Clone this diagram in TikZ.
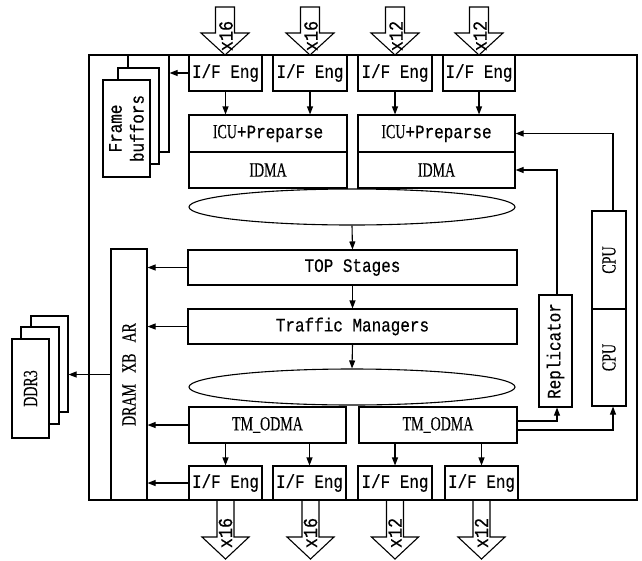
\documentclass[tikz,border=0pt]{standalone}
\usepackage{fontspec}
\setmainfont{Liberation Serif}
\newfontfamily\monof[FakeStretch=0.84,FakeBold=0.4]{Liberation Mono}
\newfontfamily\condf[FakeStretch=0.7,FakeBold=0.3]{Liberation Serif}
\usetikzlibrary{arrows.meta,shapes.geometric}
\tikzset{
  box/.style={draw, inner sep=0pt, fill=white, font=\monof\fontsize{19}{21}\selectfont},
  cbox/.style={box, font=\condf\fontsize{20}{22}\selectfont},
  rlab/.style={rotate=90, inner sep=0pt, font=\monof\fontsize{19}{22}\selectfont, align=center},
  crlab/.style={rotate=90, inner sep=0pt, font=\condf\fontsize{20}{22}\selectfont},
  alab/.style={rotate=90, inner sep=0pt, font=\monof\fontsize{20}{22}\selectfont},
  arr/.style={-{Triangle[length=8pt,width=6pt]}},
  bus/.style={draw, ellipse, inner sep=0pt, minimum width=326pt, minimum height=36pt}
}
\begin{document}
\begin{tikzpicture}[x=1pt,y=-1pt,line width=1.1pt]
\useasboundingbox (0,0) rectangle (642,560);
% main frame
\node[draw, inner sep=0pt, minimum width=548pt, minimum height=445pt] (frame) at (363,277.5) {};

% block arrows (top, in)
\foreach \c/\t [count=\i] in {225/x16,310/x16,395/x12,479/x12} {
  \draw[fill=white] (\c-9.5,7) -- (\c+9.5,7) -- (\c+9.5,33) -- (\c+24,33) -- (\c,55) -- (\c-24,33) -- (\c-9.5,33) -- cycle;
  \node[alab] (tin\i) at (\c+1,36) {\t};
}
% block arrows (bottom, out)
\foreach \c/\t [count=\i] in {225.5/x16,310.5/x16,395/x12,481.5/x12} {
  \draw[fill=white] (\c-8.5,500) -- (\c+8.5,500) -- (\c+8.5,537) -- (\c+23.5,537) -- (\c,559) -- (\c-23.5,537) -- (\c-8.5,537) -- cycle;
  \node[alab] (bout\i) at (\c,533) {\t};
}

% frame buffers
\node[box, minimum width=41pt, minimum height=97pt] (fb3) at (148.5,103.5) {};
\node[box, minimum width=41pt, minimum height=96pt] (fb2) at (138.5,116) {};
\node[box, minimum width=47pt, minimum height=97pt] (fb1) at (126.5,128.5) {};
\node[rlab] (fblab) at (fb1) {Frame\\buffors};

% top I/F engines
\node[box, minimum width=73pt, minimum height=36pt] (ifa) at (225.5,73) {I/F Eng};
\node[box, minimum width=74pt, minimum height=36pt] (ifb) at (310,73) {I/F Eng};
\node[box, minimum width=74pt, minimum height=36pt] (ifc) at (395,73) {I/F Eng};
\node[box, minimum width=72pt, minimum height=36pt] (ifd) at (479,73) {I/F Eng};

% ICU + IDMA
\node[box, minimum width=158pt, minimum height=37pt] (icuL) at (268,133.5) {{\condf\fontsize{20}{22}\selectfont ICU}+Preparse};
\node[cbox, minimum width=158pt, minimum height=36pt] (idmaL) at (268,170) {IDMA};
\node[box, minimum width=157pt, minimum height=37pt] (icuR) at (436.5,133.5) {{\condf\fontsize{20}{22}\selectfont ICU}+Preparse};
\node[cbox, minimum width=157pt, minimum height=36pt] (idmaR) at (436.5,170) {IDMA};

% buses
\node[bus] (ell1) at (352,207) {};
\node[bus] (ell2) at (352,387) {};

% pipeline
\node[box, minimum width=329pt, minimum height=35pt] (top) at (352.5,267.5) {TOP Stages};
\node[box, minimum width=329pt, minimum height=35pt] (tm) at (352.5,326.5) {Traffic Managers};

% TM_ODMA
\node[cbox, minimum width=157pt, minimum height=36pt] (odmaL) at (267.5,425) {TM\_ODMA};
\node[cbox, minimum width=158pt, minimum height=36pt] (odmaR) at (438,425) {TM\_ODMA};

% bottom I/F engines
\node[box, minimum width=73pt, minimum height=34pt] (ife) at (225.5,483) {I/F Eng};
\node[box, minimum width=73pt, minimum height=34pt] (iff) at (309.5,483) {I/F Eng};
\node[box, minimum width=74pt, minimum height=34pt] (ifg) at (395,483) {I/F Eng};
\node[box, minimum width=73pt, minimum height=34pt] (ifh) at (481.5,483) {I/F Eng};

% DRAM XB AR
\node[box, minimum width=36pt, minimum height=251pt] (dram) at (129,374.5) {};
\node[crlab] (dramlab) at (dram) {DRAM\hspace{0.55em}XB\hspace{0.55em}AR};

% DDR3
\node[box, minimum width=37pt, minimum height=96pt] (ddr3c) at (49.5,364) {};
\node[box, minimum width=38pt, minimum height=97pt] (ddr3b) at (40,375.5) {};
\node[box, minimum width=37pt, minimum height=99pt] (ddr3a) at (30.5,388.5) {};
\node[crlab] (ddrlab) at (ddr3a) {DDR3};

% Replicator and CPUs
\node[box, minimum width=33pt, minimum height=112pt] (rep) at (555.5,351) {};
\node[rlab] (replab) at (rep) {Replicator};
\node[box, minimum width=34pt, minimum height=98pt] (cpu1) at (609,260) {};
\node[crlab] (cpu1lab) at (cpu1) {CPU};
\node[box, minimum width=34pt, minimum height=97pt] (cpu2) at (609,357.5) {};
\node[crlab] (cpu2lab) at (cpu2) {CPU};

% connectors
\foreach \s/\t in {ifa/icuL,ifb/icuL,ifc/icuR,ifd/icuR}
  \draw[arr] (\s.south) -- (\s.south |- \t.north);
\draw[arr] (ifa.west) -- (fb3.east |- ifa.west);
\draw[arr] (ell1.south) -- (top.north);
\draw[arr] (top.south) -- (tm.north);
\draw[arr] (tm.south) -- (ell2.north);
\foreach \s/\t in {odmaL/ife,odmaL/iff,odmaR/ifg,odmaR/ifh}
  \draw[arr] (\t.north |- \s.south) -- (\t.north);
\foreach \s in {top,tm,odmaL,ife}
  \draw[arr] (\s.west) -- (dram.east |- \s.west);
\draw[arr] (dram.west) -- (ddr3c.east |- dram.west);
\draw[arr] ([xshift=4pt]cpu1.north) |- (icuR.east);
\draw[arr] ([xshift=1.5pt]rep.north) |- (idmaR.east);
\draw[arr] ([yshift=4pt]odmaR.east) -| ([xshift=1.5pt]rep.south);
\draw[arr] ([yshift=-5pt]odmaR.east) -| ([xshift=4pt]cpu2.south);
\end{tikzpicture}
\end{document}
